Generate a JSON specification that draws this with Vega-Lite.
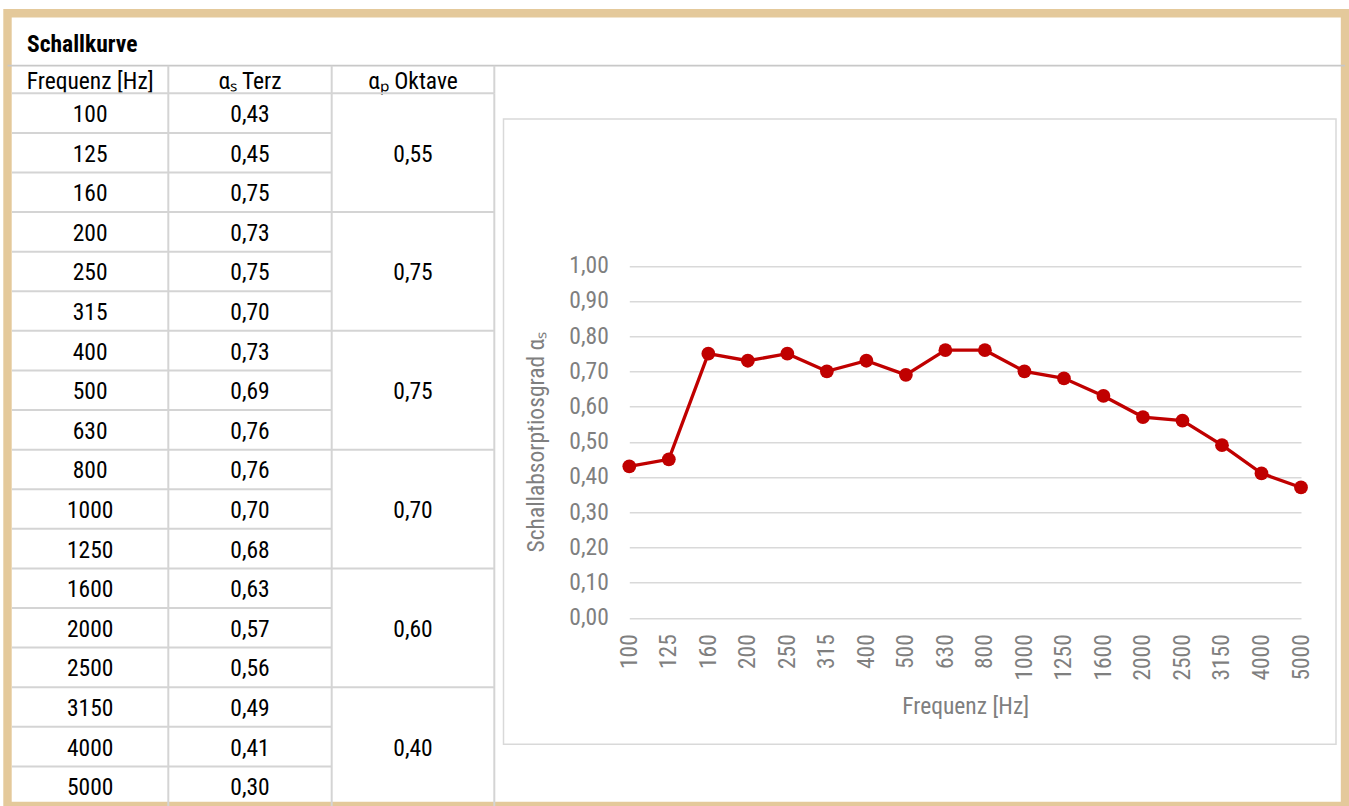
{
  "$schema": "https://vega.github.io/schema/vega-lite/v6.json",
  "width": 1337.5,
  "height": 792.8,
  "autosize": {"type": "none"},
  "padding": {"left": 7.5, "top": 13.2, "right": 4, "bottom": 0},
  "background": "white",
  "config": {
    "view": {"stroke": "#E4C99B", "strokeWidth": 8.4},
    "locale": {"number": {"decimal": ",", "thousands": ".", "grouping": [3], "currency": ["", " €"]}},
    "font": "Roboto Condensed, Liberation Sans Narrow, Liberation Sans, sans-serif",
    "text": {"font": "Roboto Condensed, Liberation Sans Narrow, Liberation Sans, sans-serif", "fontSize": 23.5, "color": "#000000"}
  },
  "datasets": {
    "kopf": [
      {"titel": "Schallkurve", "spalte1": "Frequenz [Hz]", "spalte2": "αₛ Terz", "spalte3": "αₚ Oktave"}
    ],
    "terz": [
      {"freq": "100", "terz": 0.43, "kurve": 0.43},
      {"freq": "125", "terz": 0.45, "kurve": 0.45},
      {"freq": "160", "terz": 0.75, "kurve": 0.75},
      {"freq": "200", "terz": 0.73, "kurve": 0.73},
      {"freq": "250", "terz": 0.75, "kurve": 0.75},
      {"freq": "315", "terz": 0.70, "kurve": 0.70},
      {"freq": "400", "terz": 0.73, "kurve": 0.73},
      {"freq": "500", "terz": 0.69, "kurve": 0.69},
      {"freq": "630", "terz": 0.76, "kurve": 0.76},
      {"freq": "800", "terz": 0.76, "kurve": 0.76},
      {"freq": "1000", "terz": 0.70, "kurve": 0.70},
      {"freq": "1250", "terz": 0.68, "kurve": 0.68},
      {"freq": "1600", "terz": 0.63, "kurve": 0.63},
      {"freq": "2000", "terz": 0.57, "kurve": 0.57},
      {"freq": "2500", "terz": 0.56, "kurve": 0.56},
      {"freq": "3150", "terz": 0.49, "kurve": 0.49},
      {"freq": "4000", "terz": 0.41, "kurve": 0.41},
      {"freq": "5000", "terz": 0.30, "kurve": 0.37}
    ],
    "oktave": [
      {"oktave": "125", "alpha_p": 0.55},
      {"oktave": "250", "alpha_p": 0.75},
      {"oktave": "500", "alpha_p": 0.75},
      {"oktave": "1000", "alpha_p": 0.70},
      {"oktave": "2000", "alpha_p": 0.60},
      {"oktave": "4000", "alpha_p": 0.40}
    ]
  },
  "layer": [
    {
      "layer": [
        {
          "data": {"name": "kopf"},
          "encoding": {
            "y": {"datum": "Kopfzeile", "type": "nominal", "scale": {"type": "band", "domain": ["Schallkurve", "Kopfzeile"], "range": [16.3, 80.1], "paddingInner": 0.2376, "paddingOuter": 0}, "axis": null}
          },
          "layer": [
            {
              "mark": {"type": "text", "fontWeight": "bold", "align": "left", "baseline": "middle", "dx": 15, "dy": 2},
              "encoding": {
                "x": {"datum": 0, "type": "quantitative", "scale": {"domain": [0, 1, 2, 3], "range": [4.5, 160.8, 324.2, 486.8]}, "axis": null},
                "y": {"datum": "Schallkurve", "type": "nominal"},
                "text": {"field": "titel"}
              }
            },
            {
              "mark": {"type": "rule", "color": "#C8C8C8", "strokeWidth": 1.7},
              "encoding": {"y": {"datum": "Kopfzeile", "type": "nominal", "bandPosition": 0}}
            },
            {
              "mark": {"type": "text", "baseline": "middle", "dy": 2},
              "encoding": {"x": {"datum": 0.5, "type": "quantitative"}, "text": {"field": "spalte1"}}
            },
            {
              "mark": {"type": "text", "baseline": "middle", "dy": 2},
              "encoding": {"x": {"datum": 1.5, "type": "quantitative"}, "text": {"field": "spalte2"}}
            },
            {
              "mark": {"type": "text", "baseline": "middle", "dy": 2},
              "encoding": {"x": {"datum": 2.5, "type": "quantitative"}, "text": {"field": "spalte3"}}
            },
            {
              "mark": {"type": "rule", "color": "#D4D4D4", "strokeWidth": 2},
              "encoding": {"x": {"datum": 1, "type": "quantitative"}, "y": {"datum": "Kopfzeile", "type": "nominal", "bandPosition": 0}, "y2": {"datum": "Kopfzeile", "bandPosition": 1}}
            },
            {
              "mark": {"type": "rule", "color": "#D4D4D4", "strokeWidth": 2},
              "encoding": {"x": {"datum": 2, "type": "quantitative"}, "y": {"datum": "Kopfzeile", "type": "nominal", "bandPosition": 0}, "y2": {"datum": "Kopfzeile", "bandPosition": 1}}
            },
            {
              "mark": {"type": "rule", "color": "#D4D4D4", "strokeWidth": 2},
              "encoding": {"x": {"datum": 3, "type": "quantitative"}, "y": {"datum": "Kopfzeile", "type": "nominal", "bandPosition": 0}, "y2": {"datum": "Kopfzeile", "bandPosition": 1}}
            }
          ]
        },
        {
          "encoding": {
            "y": {"field": "freq", "type": "nominal", "scale": {"type": "band", "domain": ["100", "125", "160", "200", "250", "315", "400", "500", "630", "800", "1000", "1250", "1600", "2000", "2500", "3150", "4000", "5000"], "range": [80.1, 792.8], "paddingInner": 0, "paddingOuter": 0}, "axis": null}
          },
          "layer": [
            {
              "data": {"name": "terz"},
              "mark": {"type": "rule", "color": "#D4D4D4", "strokeWidth": 2},
              "encoding": {
                "x": {"datum": 0, "type": "quantitative", "scale": {"domain": [0, 1, 2, 3], "range": [4.5, 160.8, 324.2, 486.8]}, "axis": null},
                "x2": {"datum": 2},
                "y": {"field": "freq", "type": "nominal", "bandPosition": 0}
              }
            },
            {
              "data": {"name": "terz"},
              "transform": [{"filter": {"field": "freq", "oneOf": ["100", "200", "400", "800", "1600", "3150"]}}],
              "mark": {"type": "rule", "color": "#D4D4D4", "strokeWidth": 2},
              "encoding": {
                "x": {"datum": 2, "type": "quantitative"},
                "x2": {"datum": 3},
                "y": {"field": "freq", "type": "nominal", "bandPosition": 0}
              }
            },
            {
              "data": {"name": "kopf"},
              "mark": {"type": "rule", "color": "#D4D4D4", "strokeWidth": 2},
              "encoding": {"x": {"datum": 1, "type": "quantitative"}, "y": {"datum": "100", "type": "nominal", "bandPosition": 0}, "y2": {"datum": "5000", "bandPosition": 1}}
            },
            {
              "data": {"name": "kopf"},
              "mark": {"type": "rule", "color": "#D4D4D4", "strokeWidth": 2},
              "encoding": {"x": {"datum": 2, "type": "quantitative"}, "y": {"datum": "100", "type": "nominal", "bandPosition": 0}, "y2": {"datum": "5000", "bandPosition": 1}}
            },
            {
              "data": {"name": "kopf"},
              "mark": {"type": "rule", "color": "#D4D4D4", "strokeWidth": 2},
              "encoding": {"x": {"datum": 3, "type": "quantitative"}, "y": {"datum": "100", "type": "nominal", "bandPosition": 0}, "y2": {"datum": "5000", "bandPosition": 1}}
            },
            {
              "data": {"name": "terz"},
              "mark": {"type": "text", "baseline": "middle", "dy": 2},
              "encoding": {"x": {"datum": 0.5, "type": "quantitative"}, "y": {"field": "freq", "type": "nominal", "bandPosition": 0.5}, "text": {"field": "freq"}}
            },
            {
              "data": {"name": "terz"},
              "mark": {"type": "text", "baseline": "middle", "dy": 2},
              "encoding": {"x": {"datum": 1.5, "type": "quantitative"}, "y": {"field": "freq", "type": "nominal", "bandPosition": 0.5}, "text": {"field": "terz", "type": "quantitative", "format": ".2f"}}
            },
            {
              "data": {"name": "oktave"},
              "mark": {"type": "text", "baseline": "middle", "dy": 2},
              "encoding": {"x": {"datum": 2.5, "type": "quantitative"}, "y": {"field": "oktave", "type": "nominal", "bandPosition": 0.5}, "text": {"field": "alpha_p", "type": "quantitative", "format": ".2f"}}
            }
          ]
        }
      ],
      "resolve": {"scale": {"y": "independent"}}
    },
    {
      "data": {"name": "terz"},
      "layer": [
        {
          "mark": {"type": "rect", "fill": "#ffffff", "fillOpacity": 0, "stroke": "#D9D9D9", "strokeWidth": 1.5, "xOffset": -125.8, "x2Offset": 35},
          "transform": [{"filter": {"field": "freq", "equal": "100"}}],
          "encoding": {
            "x": {"datum": "100", "type": "nominal"},
            "x2": {"datum": "5000"},
            "y": {"datum": 1.4168, "type": "quantitative"},
            "y2": {"datum": -0.3597}
          }
        },
        {
          "mark": {"type": "line", "color": "#C00000", "strokeWidth": 3.3, "point": {"filled": true, "size": 190, "color": "#C00000", "opacity": 1}},
          "encoding": {
            "x": {
              "field": "freq", "type": "nominal", "sort": null,
              "scale": {"type": "point", "domain": ["100", "125", "160", "200", "250", "315", "400", "500", "630", "800", "1000", "1250", "1600", "2000", "2500", "3150", "4000", "5000"], "range": [621.8, 1293.5], "padding": 0},
              "axis": {"orient": "bottom", "offset": -188.3, "labelAngle": -90, "labelPadding": 16, "ticks": false, "tickSize": 0, "domain": false, "grid": false, "labelFontSize": 23.5, "labelColor": "#7F7F7F", "labelFont": "Roboto Condensed, Liberation Sans Narrow, Liberation Sans, sans-serif", "title": "Frequenz [Hz]", "titleFontSize": 23.5, "titleFontWeight": "normal", "titleColor": "#7F7F7F", "titleFont": "Roboto Condensed, Liberation Sans Narrow, Liberation Sans, sans-serif", "titlePadding": 14}
            },
            "y": {
              "field": "kurve", "type": "quantitative",
              "scale": {"domain": [0, 1], "range": [604.5, 252.5], "nice": false, "zero": false},
              "axis": {"orient": "left", "offset": -621.8, "values": [0, 0.1, 0.2, 0.3, 0.4, 0.5, 0.6, 0.7, 0.8, 0.9, 1], "format": ".2f", "labelPadding": 21, "ticks": false, "tickSize": 0, "domain": false, "grid": true, "gridColor": "#D9D9D9", "gridWidth": 1.5, "labelFontSize": 23.5, "labelColor": "#7F7F7F", "labelFont": "Roboto Condensed, Liberation Sans Narrow, Liberation Sans, sans-serif", "title": "Schallabsorptiosgrad αₛ", "titleFontSize": 23.5, "titleFontWeight": "normal", "titleColor": "#7F7F7F", "titleFont": "Roboto Condensed, Liberation Sans Narrow, Liberation Sans, sans-serif", "titlePadding": 20}
            }
          }
        }
      ]
    }
  ],
  "resolve": {"scale": {"x": "independent", "y": "independent"}, "axis": {"x": "independent", "y": "independent"}}
}
